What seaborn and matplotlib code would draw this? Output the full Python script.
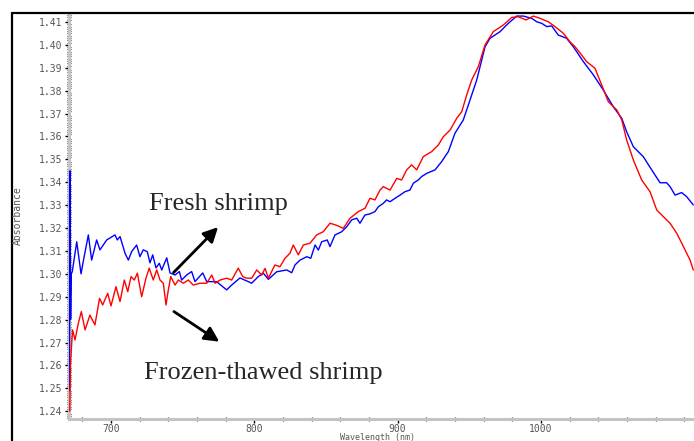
import pandas as pd
import seaborn as sns
import matplotlib.pyplot as plt
from matplotlib.lines import Line2D
from matplotlib.ticker import MultipleLocator, FixedLocator

# Fresh shrimp (blue)
fresh_wl = [671.0, 671.4, 671.8, 672.3, 673.0, 676.1, 679.1, 680.6, 684.2, 686.5,
            690.0, 692.3, 697.0, 702.8, 704.4, 706.3, 709.8, 712.1, 714.4, 717.9,
            720.2, 722.5, 725.3, 727.2, 729.1, 731.4, 733.7, 735.4, 738.9, 741.2,
            744.7, 747.7, 749.3, 752.8, 756.3, 758.6, 764.0, 766.8, 773.7, 780.7,
            784.2, 790.0, 795.8, 798.1, 802.8, 806.3, 809.8, 815.6, 822.6, 826.1,
            828.4, 831.9, 836.6, 839.4, 842.4, 844.7, 847.0, 850.9, 852.8, 856.3,
            861.0, 864.5, 868.0, 871.5, 873.7, 877.2, 880.7, 884.2, 886.5, 890.0,
            892.3, 894.7, 898.2, 901.7, 905.2, 908.6, 911.0, 914.4, 916.8, 920.3,
            926.1, 930.7, 935.4, 940.0, 945.8, 950.5, 955.2, 961.0, 964.5, 971.5,
            977.2, 983.1, 987.7, 993.6, 997.1, 1000.6, 1004.0, 1007.5, 1012.1, 1017.9,
            1022.6, 1029.6, 1036.6, 1043.5, 1050.5, 1056.4, 1059.8, 1064.5, 1071.4, 1077.3,
            1083.1, 1087.7, 1090.1, 1093.6, 1098.2, 1101.7, 1106.3]
fresh_abs = [1.249, 1.345, 1.280, 1.300, 1.301, 1.314, 1.300, 1.3053, 1.317, 1.306,
             1.3148, 1.3105, 1.3148, 1.317, 1.3148, 1.3163, 1.309, 1.306, 1.3097, 1.3126,
             1.3075, 1.3105, 1.3097, 1.3048, 1.3083, 1.3026, 1.3046, 1.3017, 1.307, 1.3004,
             1.2995, 1.301, 1.2973, 1.2995, 1.301, 1.2966, 1.3004, 1.2966, 1.2966, 1.293,
             1.2951, 1.2982, 1.2966, 1.2959, 1.2988, 1.3003, 1.2976, 1.3009, 1.3017, 1.3005,
             1.3039, 1.306, 1.3075, 1.3068, 1.3126, 1.3104, 1.314, 1.3148, 1.3119, 1.317,
             1.3184, 1.3206, 1.3236, 1.3243, 1.3221, 1.3257, 1.3262, 1.3272, 1.3293, 1.3308,
             1.3323, 1.3315, 1.333, 1.3344, 1.3359, 1.3366, 1.3396, 1.341, 1.3425, 1.3439,
             1.3454, 1.349, 1.3534, 1.3614, 1.3672, 1.3759, 1.3847, 1.3992, 1.4029, 1.4058,
             1.4094, 1.4126, 1.4126, 1.4116, 1.4101, 1.4094, 1.408, 1.4083, 1.4043, 1.4029,
             1.3992, 1.3927, 1.3869, 1.3803, 1.373, 1.3679, 1.3621, 1.3555, 1.3512, 1.3454,
             1.3398, 1.3398, 1.3381, 1.3344, 1.3355, 1.3337, 1.3301]

# Frozen-thawed shrimp (red)
thawed_wl = [671.2, 671.8, 673.2, 674.9, 677.2, 679.3, 681.9, 685.3, 688.8, 692.0,
             694.2, 697.7, 700.0, 703.5, 706.3, 709.3, 711.7, 714.0, 716.3, 718.4,
             721.4, 724.4, 726.7, 729.5, 731.9, 734.2, 736.5, 738.4, 740.0, 741.7,
             744.7, 747.0, 750.5, 753.9, 757.4, 762.1, 766.8, 770.3, 772.6, 776.1,
             780.7, 784.2, 788.8, 791.9, 794.6, 798.2, 801.7, 805.2, 807.5, 809.8,
             814.4, 817.9, 821.4, 824.9, 827.2, 830.7, 834.2, 838.9, 843.5, 848.1,
             852.8, 857.0, 862.1, 866.8, 872.6, 877.2, 880.7, 884.2, 887.7, 890.0,
             894.7, 899.4, 902.8, 906.3, 909.8, 913.3, 917.9, 923.8, 928.4, 931.9,
             936.6, 941.2, 944.7, 948.2, 951.7, 956.3, 961.0, 966.8, 973.8, 979.6,
             984.2, 989.6, 994.7, 999.4, 1005.1, 1009.8, 1015.6, 1020.2, 1023.8, 1028.4,
             1031.9, 1037.7, 1042.4, 1047.0, 1052.9, 1056.4, 1059.8, 1064.5, 1070.3, 1076.1,
             1080.8, 1085.4, 1090.1, 1094.8, 1099.4, 1104.0, 1106.3]
thawed_abs = [1.240, 1.262, 1.2755, 1.2711, 1.2784, 1.2835, 1.2755, 1.282, 1.2777, 1.2893,
              1.2864, 1.2915, 1.286, 1.2944, 1.2879, 1.2973, 1.2922, 1.2988, 1.2973, 1.3003,
              1.29, 1.2981, 1.3025, 1.2973, 1.3017, 1.2973, 1.2959, 1.2864, 1.293, 1.2988,
              1.2951, 1.2973, 1.2959, 1.2973, 1.2951, 1.2959, 1.2959, 1.2995, 1.2959, 1.2973,
              1.2981, 1.2973, 1.3025, 1.2988, 1.2981, 1.2981, 1.3017, 1.2995, 1.3024, 1.2981,
              1.3039, 1.3031, 1.3068, 1.309, 1.3126, 1.3083, 1.3126, 1.3134, 1.317, 1.3184,
              1.3221, 1.3213, 1.3199, 1.3243, 1.3272, 1.3286, 1.333, 1.3323, 1.3366, 1.3381,
              1.3366, 1.3417, 1.341, 1.3454, 1.3476, 1.3454, 1.3512, 1.3534, 1.3563, 1.3599,
              1.3628, 1.3679, 1.3708, 1.3781, 1.3847, 1.3905, 1.400, 1.4058, 1.4087, 1.412,
              1.4123, 1.4109, 1.4126, 1.4116, 1.4101, 1.408, 1.4051, 1.4014, 1.3992, 1.3956,
              1.3927, 1.3898, 1.3825, 1.3752, 1.3716, 1.3672, 1.3585, 1.3497, 1.341, 1.3359,
              1.3279, 1.325, 1.3221, 1.3177, 1.3119, 1.3061, 1.3017]

y_ticks = [1.24, 1.25, 1.26, 1.27, 1.28, 1.29, 1.30, 1.31, 1.32, 1.33,
           1.34, 1.35, 1.36, 1.37, 1.38, 1.39, 1.40, 1.41]
x_ticks = [700, 800, 900, 1000]

df_fresh = pd.DataFrame({"wl": fresh_wl, "abs": fresh_abs})
df_thawed = pd.DataFrame({"wl": thawed_wl, "abs": thawed_abs})

sns.set_style("white")
mono = "DejaVu Sans Mono"

fig = plt.figure(figsize=(6.94, 4.41), dpi=100)
ax = fig.add_axes([69 / 694, 22 / 441, 625 / 694, 405 / 441])

sns.lineplot(x="wl", y="abs", data=df_fresh, color="#0000ff", linewidth=1.0, sort=False, ax=ax)
sns.lineplot(x="wl", y="abs", data=df_thawed, color="#ff0000", linewidth=1.0, sort=False, ax=ax)

ax.set_xlim(670.7, 1106.8)
ax.set_ylim(1.2366, 1.4135)

ax.set_yticks(y_ticks)
ax.set_yticklabels([f"{v:.2f}" for v in y_ticks], fontfamily=mono, fontsize=7, color="#555555")
ax.yaxis.set_minor_locator(MultipleLocator(0.001))
ax.set_xticks(x_ticks)
ax.set_xticklabels([str(v) for v in x_ticks], fontfamily=mono, fontsize=7, color="#555555")
ax.xaxis.set_minor_locator(FixedLocator(list(range(680, 1101, 20))))

ax.tick_params(axis="both", which="major", length=3, width=1, color="black", pad=1.5)
ax.tick_params(axis="x", which="major", pad=0.5)
ax.tick_params(axis="both", which="minor", length=2.5, width=0.9, color="#333333", direction="inout")
ax.tick_params(axis="both", which="both", left=True, bottom=True)

for side in ["top", "right"]:
    ax.spines[side].set_visible(False)
for side in ["left", "bottom"]:
    ax.spines[side].set_color("#c4c4c4")
    ax.spines[side].set_linewidth(2.2)
    ax.spines[side].set_zorder(1)

ax.set_xlabel("")
ax.set_ylabel("")
fig.text(18 / 694, 0.51, "Absorbance", rotation=90, ha="center", va="center",
         fontfamily=mono, fontsize=7, color="#555555")
fig.text(377 / 694, 1 - 437 / 441, "Wavelength (nm)", ha="center", va="center",
         fontfamily=mono, fontsize=6, color="#555555")

# annotations
ax.annotate("", xy=(776.1, 1.3213), xytext=(742.3, 1.2997),
            arrowprops=dict(arrowstyle="-|>", color="black", lw=2, mutation_scale=22))
ax.annotate("", xy=(777.2, 1.2697), xytext=(742.3, 1.2842),
            arrowprops=dict(arrowstyle="-|>", color="black", lw=2, mutation_scale=22))
ax.text(775, 1.3305, "Fresh shrimp", ha="center", va="center",
        fontfamily="Liberation Serif", fontsize=19)
ax.text(806.4, 1.2567, "Frozen-thawed shrimp", ha="center", va="center",
        fontfamily="Liberation Serif", fontsize=19)

# outer frame
fig.add_artist(Line2D([12 / 694, 1.0], [1 - 13 / 441, 1 - 13 / 441], color="black", lw=1.6))
fig.add_artist(Line2D([12 / 694, 12 / 694], [0.0, 1 - 13 / 441], color="black", lw=1.6))

fig.savefig("out.png", dpi=100)
